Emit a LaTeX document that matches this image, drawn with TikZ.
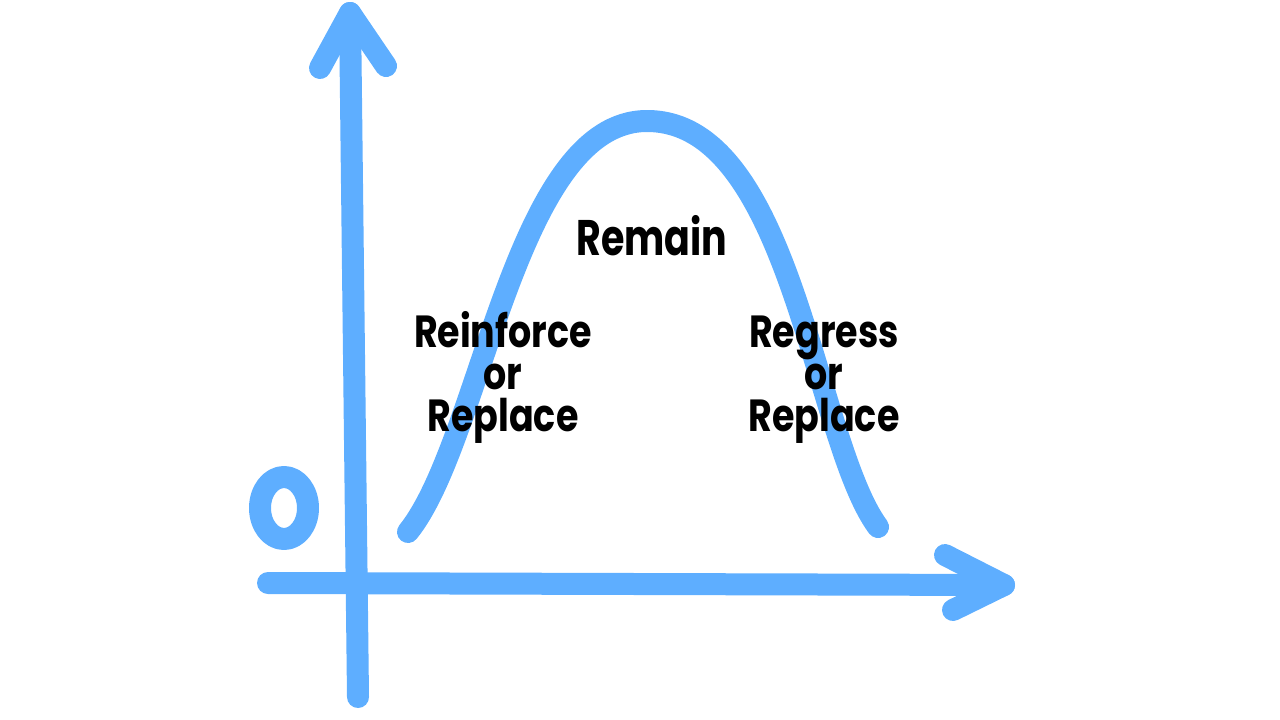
\documentclass[tikz,border=0pt]{standalone}
\usepackage{fontspec}
\newfontfamily\labelfont{Poppins}[UprightFont=* Bold]
\definecolor{skyblue}{RGB}{94,174,255}
\begin{document}
\begin{tikzpicture}[x=1pt,y=-1pt,
  stroke/.style={draw=skyblue,line width=22pt,line cap=round,line join=round},
  biglabel/.style={font=\labelfont\fontsize{50}{50}\selectfont,anchor=base,inner sep=0pt,xscale=0.76},
  label/.style={font=\labelfont\fontsize{45}{45}\selectfont,anchor=base,inner sep=0pt,xscale=0.81}]
\useasboundingbox (0,0) rectangle (1280,720);
% axes
\coordinate (ybot) at (358,697);
\coordinate (ytip) at (350,13);
\coordinate (yl) at (320,68);
\coordinate (yr) at (386,66);
\coordinate (xleft) at (268,583);
\coordinate (xtip) at (1004,585);
\coordinate (xu) at (945,555);
\coordinate (xd) at (953,610);
\draw[stroke] (ybot) -- (ytip);
\draw[stroke] (yl) -- (ytip) -- (yr);
\draw[stroke] (xleft) -- (xtip);
\draw[stroke] (xu) -- (xtip) -- (xd);
% zero
\draw[stroke] (284,508) ellipse [x radius=24, y radius=31];
% curve
\coordinate (cstart) at (408,532);
\coordinate (cpeak) at (647,121);
\coordinate (cend) at (878,527);
\draw[stroke] (cstart) .. controls (482,440) and (515,121) .. (cpeak)
  .. controls (792,121) and (814,440) .. (cend);
% labels
\node[biglabel] (remain) at (652,255) {Remain};
\node[label] (l1) at (503,347) {Reinforce};
\node[label] (l2) at (503,389) {or};
\node[label] (l3) at (503,431) {Replace};
\node[label] (r1) at (824,347) {Regress};
\node[label] (r2) at (824,389) {or};
\node[label] (r3) at (824,431) {Replace};
\end{tikzpicture}
\end{document}
